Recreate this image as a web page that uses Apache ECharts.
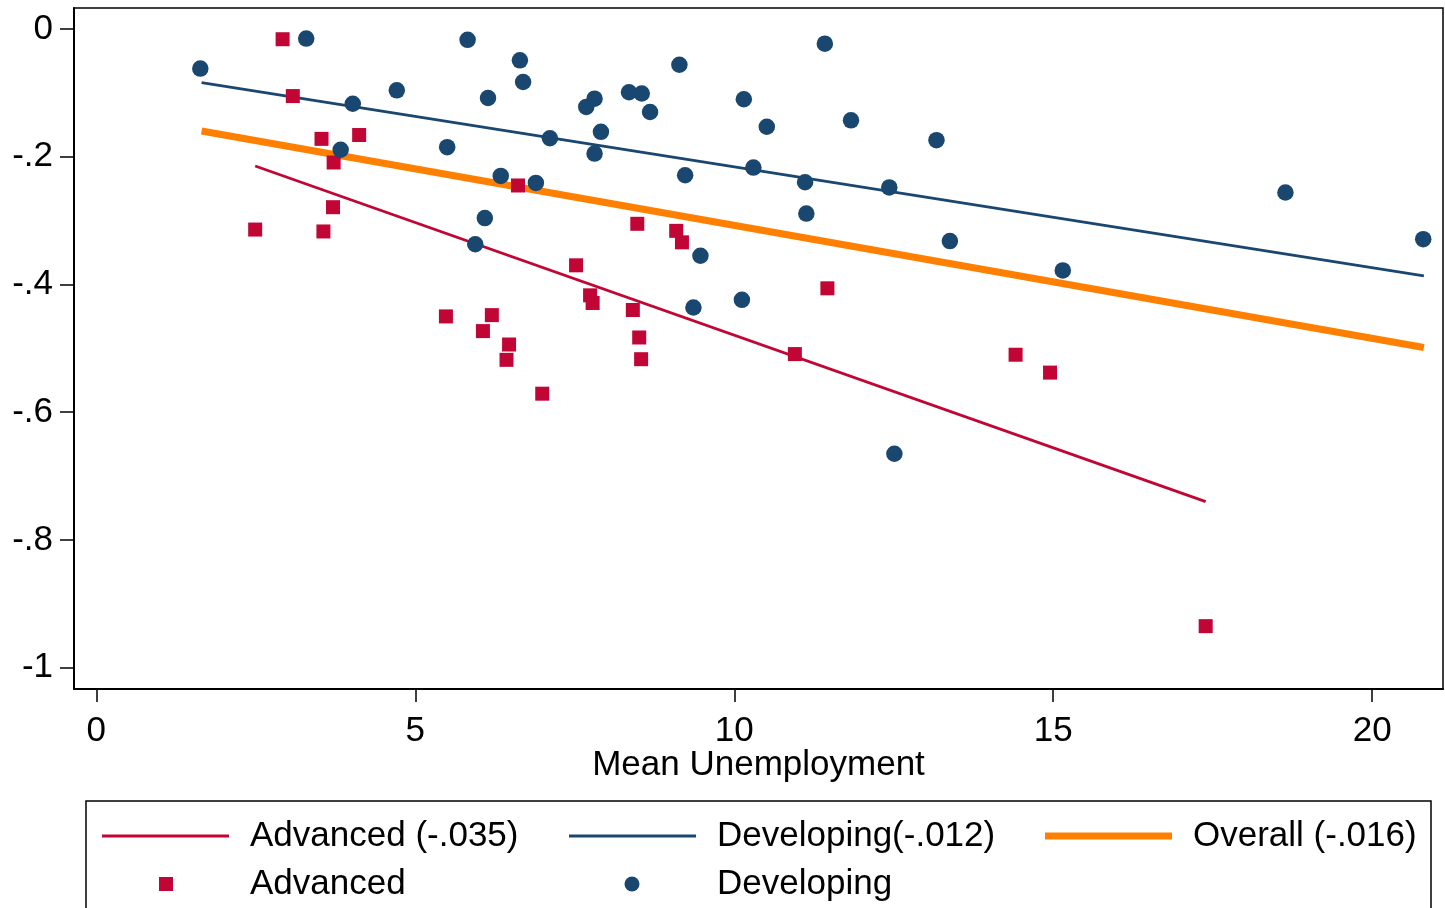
<!DOCTYPE html>
<html>
<head>
<meta charset="utf-8">
<title>Mean Unemployment scatter</title>
<script src="https://cdn.jsdelivr.net/npm/echarts@6/dist/echarts.min.js"></script>
<style>
  html, body { margin: 0; padding: 0; background: #fff; }
  #chart { width: 1445px; height: 908px; }
</style>
</head>
<body>
<div id="chart"></div>
<script>
// Advanced economies: mean unemployment vs. outcome
const advX = [2.92, 3.08, 3.53, 4.12, 3.72, 3.71, 2.49, 3.56, 6.61, 8.48, 9.09, 9.18, 7.52, 7.74, 7.78,
              8.41, 5.48, 6.20, 6.06, 6.47, 6.43, 8.51, 8.54, 6.99, 11.46, 10.95, 14.41, 14.95, 17.39];
const advY = [-0.016, -0.105, -0.172, -0.166, -0.209, -0.279, -0.314, -0.317, -0.245, -0.305, -0.316, -0.334, -0.370, -0.417, -0.429,
              -0.440, -0.450, -0.448, -0.473, -0.494, -0.518, -0.483, -0.517, -0.571, -0.406, -0.509, -0.510, -0.538, -0.935];

// Developing economies
const devX = [1.63, 3.29, 5.82, 11.42, 9.14, 6.64, 6.69, 4.71, 4.02, 6.14, 8.35, 8.55, 7.81, 7.68, 8.68,
              10.15, 10.51, 11.83, 7.91, 7.11, 13.17, 3.83, 5.50, 7.81, 10.30, 9.23, 6.34, 6.89, 11.11, 12.43,
              18.64, 6.09, 11.13, 5.94, 13.38, 20.80, 9.47, 15.15, 10.12, 9.36, 12.51];
const devY = [-0.062, -0.015, -0.017, -0.023, -0.056, -0.049, -0.083, -0.096, -0.117, -0.108, -0.099, -0.101, -0.109, -0.122, -0.130,
              -0.110, -0.153, -0.143, -0.161, -0.171, -0.174, -0.189, -0.185, -0.195, -0.217, -0.229, -0.230, -0.241, -0.240, -0.248,
              -0.256, -0.296, -0.289, -0.337, -0.332, -0.329, -0.355, -0.378, -0.424, -0.436, -0.665];

// Fitted lines (end points over each group's range)
const advFitX = [2.49, 17.39];
const advFitY = [-0.2145, -0.7400];
const devFitX = [1.65, 20.81];
const devFitY = [-0.0841, -0.3867];
const allFitX = [1.65, 20.81];
const allFitY = [-0.1597, -0.4987];

// Axis ticks
const xTickValues = [0, 5, 10, 15, 20];
const xTickLabels = ['0', '5', '10', '15', '20'];
const yTickValues = [0, -0.2, -0.4, -0.6, -0.8, -1];
const yTickLabels = ['0', '-.2', '-.4', '-.6', '-.8', '-1'];

// Series names
const names = {
  advFit: 'Advanced (-.035)',
  devFit: 'Developing(-.012)',
  allFit: 'Overall (-.016)',
  adv: 'Advanced',
  dev: 'Developing'
};

const RED = '#C10534';
const NAVY = '#1A476F';
const ORANGE = '#FF8000';
const FONT = "'Liberation Sans', Arial, sans-serif";

const zip = (xs, ys) => xs.map((x, i) => [x, ys[i]]);
const labelFor = (values, labels) => (v) => {
  const i = values.findIndex(t => Math.abs(t - v) < 1e-9);
  return i >= 0 ? labels[i] : '';
};

const chart = echarts.init(document.getElementById('chart'), null, { renderer: 'canvas' });

const legendText = (pad) => ({
  fontFamily: FONT, fontSize: 35, color: '#000', lineHeight: 40, padding: [0, 0, 0, pad]
});
const legendItem = (name, left, top, icon, w, h, pad) => ({
  show: true, data: [{ name: name, icon: icon }], left: left, top: top,
  padding: 0, itemWidth: w, itemHeight: h, itemGap: 0,
  selectedMode: false, textStyle: legendText(pad),
  itemStyle: { opacity: 1 }
});

chart.setOption({
  animation: false,
  backgroundColor: '#fff',
  grid: {
    left: 74, right: 2, top: 8, bottom: 219,
    show: true, borderColor: '#000', borderWidth: 1.5,
    outerBoundsMode: 'none'
  },
  xAxis: {
    type: 'value',
    min: -0.35, max: 21.11,
    name: 'Mean Unemployment',
    nameLocation: 'middle',
    nameGap: 59,
    nameMoveOverlap: false,
    nameTextStyle: { fontFamily: FONT, fontSize: 35, color: '#000' },
    axisLine: { show: true, onZero: false, lineStyle: { color: '#000', width: 2 } },
    axisTick: { show: true, inside: false, length: 13, customValues: xTickValues, lineStyle: { color: '#000', width: 1.5 } },
    axisLabel: {
      show: true, margin: 25, customValues: xTickValues,
      formatter: labelFor(xTickValues, xTickLabels),
      fontFamily: FONT, fontSize: 35, color: '#000'
    },
    splitLine: { show: false }
  },
  yAxis: {
    type: 'value',
    min: -1.0334, max: 0.0329,
    axisLine: { show: true, onZero: false, lineStyle: { color: '#000', width: 2 } },
    axisTick: { show: true, inside: false, length: 14, customValues: yTickValues, lineStyle: { color: '#000', width: 1.5 } },
    axisLabel: {
      show: true, margin: 21, customValues: yTickValues,
      formatter: labelFor(yTickValues, yTickLabels),
      padding: [3, 0, 0, 0],
      fontFamily: FONT, fontSize: 35, color: '#000'
    },
    splitLine: { show: false }
  },
  legend: [
    legendItem(names.advFit, 102, 816, 'rect', 127, 3, 16),
    legendItem(names.devFit, 569, 816, 'rect', 127, 3, 16),
    legendItem(names.allFit, 1045, 816, 'rect', 127, 7, 16),
    legendItem(names.adv, 159, 864, 'rect', 14, 14, 72),
    legendItem(names.dev, 624.5, 864, 'circle', 15, 15, 72.5)
  ],
  graphic: [{
    type: 'rect',
    shape: { x: 86, y: 801, width: 1345, height: 130 },
    style: { fill: 'none', stroke: '#000', lineWidth: 1.5 },
    silent: true
  }],
  series: [
    {
      name: names.advFit, type: 'line', data: zip(advFitX, advFitY),
      symbol: 'none', color: RED, lineStyle: { color: RED, width: 2.8 }, z: 2
    },
    {
      name: names.devFit, type: 'line', data: zip(devFitX, devFitY),
      symbol: 'none', color: NAVY, lineStyle: { color: NAVY, width: 2.8 }, z: 2
    },
    {
      name: names.allFit, type: 'line', data: zip(allFitX, allFitY),
      symbol: 'none', color: ORANGE, lineStyle: { color: ORANGE, width: 7 }, z: 2
    },
    {
      name: names.adv, type: 'scatter', data: zip(advX, advY),
      symbol: 'rect', symbolSize: 14, color: RED, itemStyle: { color: RED, opacity: 1 }, z: 3
    },
    {
      name: names.dev, type: 'scatter', data: zip(devX, devY),
      symbol: 'circle', symbolSize: 16.5, color: NAVY, itemStyle: { color: NAVY, opacity: 1 }, z: 3
    }
  ]
});
</script>
</body>
</html>
